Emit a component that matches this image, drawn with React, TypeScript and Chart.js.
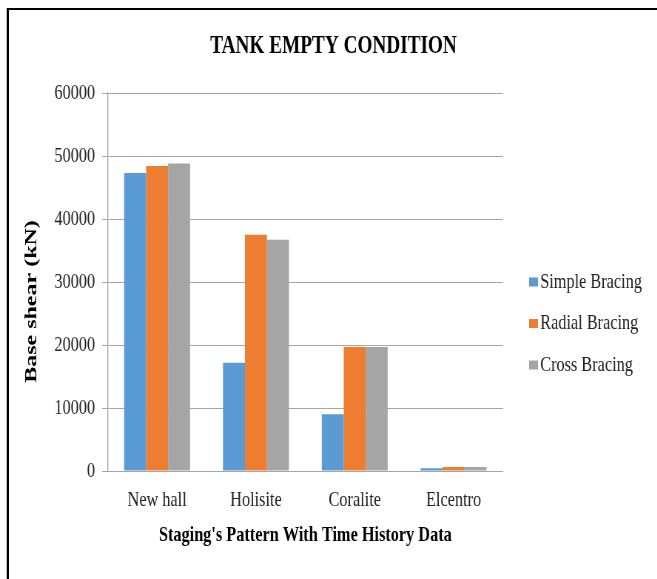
import React, { useEffect, useRef } from 'react';
import { Chart, registerables } from 'chart.js';

Chart.register(...registerables);

// ---- data ----
const categories = ['New hall', 'Holisite', 'Coralite', 'Elcentro'];
const seriesNames = ['Simple Bracing', 'Radial Bracing', 'Cross Bracing'];
const simpleBracing = [47300, 17200, 9000, 450];
const radialBracing = [48400, 37500, 19700, 650];
const crossBracing = [48800, 36700, 19700, 650];
const seriesColors = ['#5B9BD5', '#ED7D31', '#A5A5A5'];
const yMin = 0;
const yMax = 60000;
const yStep = 10000;
const titleText = 'TANK EMPTY CONDITION';
const xTitleText = "Staging's Pattern With Time History Data";
const yTitleText = 'Base shear (kN)';

// ---- presentation ----
const SX = 0.74; // horizontal condensing of the whole picture
const W = 888;
const H = 579;
const FONT = "'Liberation Serif', 'Times New Roman', Times, serif";

const decor = {
  id: 'decor',
  beforeDraw(chart: any) {
    const ctx = chart.ctx;
    ctx.save();
    ctx.fillStyle = '#ffffff';
    ctx.fillRect(0, 0, chart.width, chart.height);
    ctx.restore();
  },
  afterDraw(chart: any) {
    const ctx = chart.ctx;
    ctx.save();
    ctx.fillStyle = '#000000';
    ctx.fillRect(9, 8, 3, chart.height);
    ctx.fillRect(9, 8, chart.width, 2);
    ctx.restore();

    // y axis title
    ctx.save();
    ctx.translate(43, 301.5);
    ctx.rotate(-Math.PI / 2);
    ctx.font = `bold 24px ${FONT}`;
    ctx.fillStyle = '#000000';
    ctx.textAlign = 'center';
    ctx.textBaseline = 'middle';
    ctx.fillText(yTitleText, 0, 0);
    ctx.restore();

    // legend
    ctx.save();
    chart.data.datasets.forEach((ds: any, i: number) => {
      const cy = 282 + i * 41.5;
      ctx.fillStyle = ds.backgroundColor;
      ctx.fillRect(715, cy - 4.5, 12, 9);
      ctx.fillStyle = '#222222';
      ctx.font = `22px ${FONT}`;
      ctx.textAlign = 'left';
      ctx.textBaseline = 'middle';
      ctx.fillText(ds.label, 730, cy);
    });
    ctx.restore();
  },
};

export default function App() {
  const ref = useRef<HTMLCanvasElement>(null);

  useEffect(() => {
    const seriesValues = [simpleBracing, radialBracing, crossBracing];
    const chart = new Chart(ref.current as HTMLCanvasElement, {
      type: 'bar',
      data: {
        labels: categories,
        datasets: seriesNames.map((name, i) => ({
          label: name,
          data: seriesValues[i],
          backgroundColor: seriesColors[i],
          borderWidth: 0,
          barPercentage: 1,
          categoryPercentage: 0.667,
        })),
      },
      options: {
        responsive: false,
        animation: false,
        devicePixelRatio: 1,
        layout: { padding: { left: 13.4, right: 0, top: 0, bottom: 26.8 } },
        plugins: {
          legend: { display: false },
          tooltip: { enabled: false },
          title: {
            display: true,
            text: titleText,
            color: '#000000',
            font: { family: FONT, size: 26, weight: 'bold' },
            padding: { top: 30.8, bottom: 31 },
          },
        },
        scales: {
          x: {
            grid: { display: false, drawTicks: false },
            border: { display: true, color: '#a6a6a6', width: 1 },
            ticks: {
              font: { family: FONT, size: 22 },
              color: '#222222',
              padding: 16.3,
              maxRotation: 0,
              autoSkip: false,
            },
            title: {
              display: true,
              text: xTitleText,
              color: '#000000',
              font: { family: FONT, size: 22, weight: 'bold' },
              padding: { top: 7, bottom: 4 },
            },
            afterFit: (s: any) => {
              s.height = 81.2;
            },
          },
          y: {
            min: yMin,
            max: yMax,
            ticks: {
              stepSize: yStep,
              padding: 9.8,
              color: '#222222',
              font: { family: FONT, size: 22 },
              callback: (v: any) => String(v),
            },
            grid: { color: '#a6a6a6', lineWidth: 1, tickLength: 7.3, drawTicks: true },
            border: { display: true, color: '#a6a6a6', width: 1.35 },
            afterFit: (s: any) => {
              s.width = 132.1;
            },
          },
          rightSpace: {
            type: 'linear',
            position: 'right',
            display: true,
            grid: { display: false, drawTicks: false },
            border: { display: false },
            ticks: { display: false },
            afterFit: (s: any) => {
              s.width = 208.3;
            },
          },
        },
      },
      plugins: [decor],
    } as any);
    return () => chart.destroy();
  }, []);

  return (
    <div
      style={{
        position: 'absolute',
        left: 0,
        top: 0,
        width: 657,
        height: 579,
        overflow: 'hidden',
        background: '#ffffff',
      }}
    >
      <canvas
        ref={ref}
        width={W}
        height={H}
        style={{
          display: 'block',
          width: `${W}px`,
          height: `${H}px`,
          transform: `scaleX(${SX})`,
          transformOrigin: '0 0',
        }}
      />
    </div>
  );
}
